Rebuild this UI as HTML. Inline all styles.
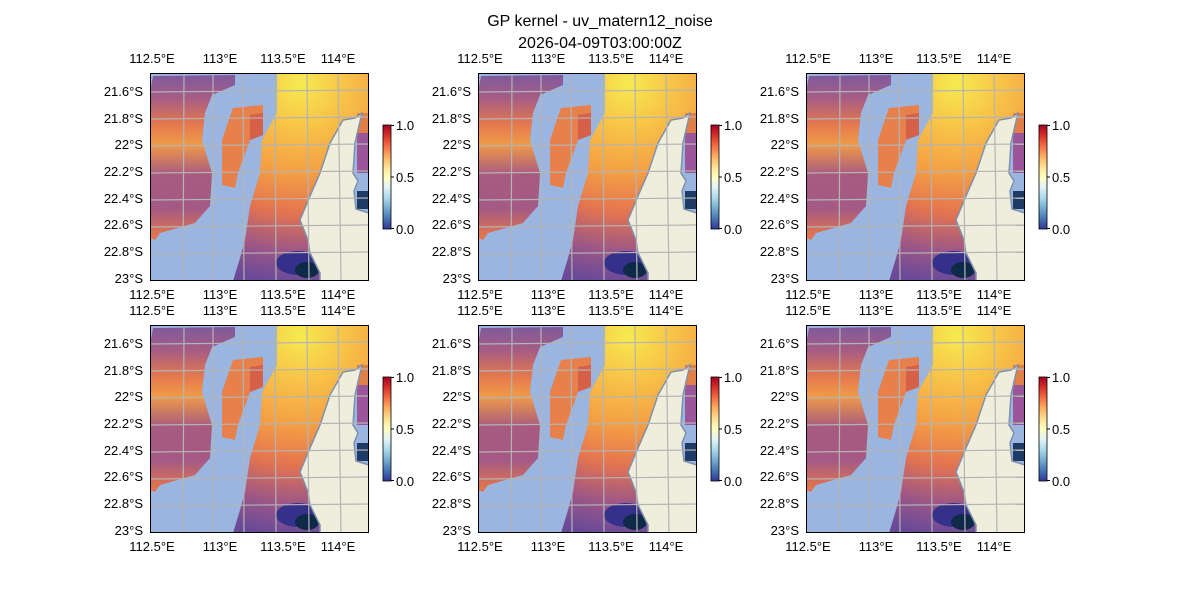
<!DOCTYPE html>
<html><head><meta charset="utf-8"><style>
body{margin:0;background:#fff}
svg text{font-family:"Liberation Sans","DejaVu Sans",sans-serif;font-size:13px;fill:#000}
</style></head><body>
<svg width="1200" height="600" viewBox="0 0 1200 600" xmlns="http://www.w3.org/2000/svg">
<defs>
<linearGradient id="cb" x1="0" y1="1" x2="0" y2="0">
<stop offset="0" stop-color="#313695"/><stop offset="0.1" stop-color="#4575b4"/><stop offset="0.2" stop-color="#74add1"/><stop offset="0.3" stop-color="#abd9e9"/><stop offset="0.4" stop-color="#e0f3f8"/><stop offset="0.5" stop-color="#ffffbf"/><stop offset="0.6" stop-color="#fee090"/><stop offset="0.7" stop-color="#fdae61"/><stop offset="0.8" stop-color="#f46d43"/><stop offset="0.9" stop-color="#d73027"/><stop offset="1" stop-color="#a50026"/>
</linearGradient>
<linearGradient id="ga" x1="0" y1="0" x2="0" y2="170" gradientUnits="userSpaceOnUse">
<stop offset="0" stop-color="#7c5aa0"/><stop offset="0.15" stop-color="#a65c84"/><stop offset="0.3" stop-color="#e4784e"/><stop offset="0.42" stop-color="#f09a48"/><stop offset="0.6" stop-color="#a85a80"/><stop offset="0.8" stop-color="#a45a84"/><stop offset="0.95" stop-color="#e0744e"/>
</linearGradient>
<radialGradient id="gr" cx="150" cy="10" r="200" gradientUnits="userSpaceOnUse">
<stop offset="0" stop-color="#f6ea50"/><stop offset="0.2" stop-color="#f8c848"/><stop offset="0.45" stop-color="#f4a044"/><stop offset="0.65" stop-color="#e47450"/><stop offset="0.85" stop-color="#9a5688"/><stop offset="1" stop-color="#6a4a98"/>
</radialGradient>
<clipPath id="pc"><rect x="0" y="0" width="219" height="208"/></clipPath>
<g id="panel">
<g clip-path="url(#pc)">
<rect x="0" y="0" width="219" height="208" fill="#9ab6e0"/>
<polygon fill="url(#ga)" points="3,3 85,2 85,12 62,22 55,40 52,67 62,100 60,133 45,150 10,160 5,167 0,165 0,20"/>
<polygon fill="#e8804c" points="83,35 113,32 113,55 100,67 88,100 85,115 72,112 72,67"/>
<polygon fill="#d6604a" points="100,42 113,40 113,62 100,67"/>
<polygon fill="url(#gr)" points="127,0 219,0 219,40 193,47 180,70 170,100 160,123 150,147 158,167 160,180 170,200 170,208 83,208 90,185 95,167 100,133 110,100 112,67 127,40"/>
<ellipse cx="148" cy="190" rx="22" ry="12" fill="#35308a"/>
<ellipse cx="157" cy="197" rx="12" ry="8" fill="#0e2a48"/>
<rect x="207" y="40" width="12" height="20" fill="#e08048"/>
<rect x="207" y="60" width="12" height="40" fill="#9a5698"/>
<rect x="207" y="118" width="12" height="18" fill="#1e3a66"/>
<polygon fill="#efeedd" stroke="#8090a8" stroke-width="1.5" points="212,40 205,45 193,47 180,70 170,100 160,123 150,147 158,167 160,180 170,200 170,208 219,208 219,140 206,136 204,118 208,108 203,100 205,70 212,40"/>
<g stroke="#b4b4b4" stroke-width="1.2" fill="none">
<line x1="34" y1="0" x2="33" y2="208"/><line x1="63" y1="0" x2="63" y2="208"/><line x1="93" y1="0" x2="94" y2="208"/><line x1="125" y1="0" x2="126" y2="208"/><line x1="157" y1="0" x2="159" y2="208"/><line x1="188" y1="0" x2="191" y2="208"/>
<line x1="0" y1="19" x2="219" y2="17"/><line x1="0" y1="46" x2="219" y2="44"/><line x1="0" y1="73" x2="219" y2="71"/><line x1="0" y1="100" x2="219" y2="98"/><line x1="0" y1="127" x2="219" y2="125"/><line x1="0" y1="154" x2="219" y2="152"/><line x1="0" y1="181" x2="219" y2="179"/>
</g>
</g>
<rect x="0.5" y="0.5" width="218" height="207" fill="none" stroke="#000" stroke-width="1"/>
</g>
<g id="cbar">
<rect x="0" y="0" width="8" height="104" fill="url(#cb)" stroke="#000" stroke-width="0.8"/>
<line x1="8" y1="0.5" x2="11" y2="0.5" stroke="#000"/><line x1="8" y1="52" x2="11" y2="52" stroke="#000"/><line x1="8" y1="103.5" x2="11" y2="103.5" stroke="#000"/>
</g>
</defs>
<text x="600" y="26" text-anchor="middle" style="font-size:16px">GP kernel - uv_matern12_noise</text>
<text x="600" y="48" text-anchor="middle" style="font-size:16px">2026-04-09T03:00:00Z</text>

<use href="#panel" x="150" y="73"/><use href="#panel" x="478" y="73"/><use href="#panel" x="806" y="73"/>
<use href="#panel" x="150" y="325"/><use href="#panel" x="478" y="325"/><use href="#panel" x="806" y="325"/>
<use href="#cbar" x="383" y="125"/><use href="#cbar" x="711" y="125"/><use href="#cbar" x="1039" y="125"/>
<use href="#cbar" x="383" y="377"/><use href="#cbar" x="711" y="377"/><use href="#cbar" x="1039" y="377"/>

<g text-anchor="middle">
<text x="152" y="63">112.5°E</text><text x="220" y="63">113°E</text><text x="283" y="63">113.5°E</text><text x="338" y="63">114°E</text>
<text x="152" y="299">112.5°E</text><text x="220" y="299">113°E</text><text x="283" y="299">113.5°E</text><text x="338" y="299">114°E</text>
<text x="152" y="315">112.5°E</text><text x="220" y="315">113°E</text><text x="283" y="315">113.5°E</text><text x="338" y="315">114°E</text>
<text x="152" y="551">112.5°E</text><text x="220" y="551">113°E</text><text x="283" y="551">113.5°E</text><text x="338" y="551">114°E</text>

<text x="480" y="63">112.5°E</text><text x="548" y="63">113°E</text><text x="611" y="63">113.5°E</text><text x="666" y="63">114°E</text>
<text x="480" y="299">112.5°E</text><text x="548" y="299">113°E</text><text x="611" y="299">113.5°E</text><text x="666" y="299">114°E</text>
<text x="480" y="315">112.5°E</text><text x="548" y="315">113°E</text><text x="611" y="315">113.5°E</text><text x="666" y="315">114°E</text>
<text x="480" y="551">112.5°E</text><text x="548" y="551">113°E</text><text x="611" y="551">113.5°E</text><text x="666" y="551">114°E</text>

<text x="808" y="63">112.5°E</text><text x="876" y="63">113°E</text><text x="939" y="63">113.5°E</text><text x="994" y="63">114°E</text>
<text x="808" y="299">112.5°E</text><text x="876" y="299">113°E</text><text x="939" y="299">113.5°E</text><text x="994" y="299">114°E</text>
<text x="808" y="315">112.5°E</text><text x="876" y="315">113°E</text><text x="939" y="315">113.5°E</text><text x="994" y="315">114°E</text>
<text x="808" y="551">112.5°E</text><text x="876" y="551">113°E</text><text x="939" y="551">113.5°E</text><text x="994" y="551">114°E</text>
</g>

<g text-anchor="end">
<text x="143" y="96">21.6°S</text><text x="143" y="123">21.8°S</text><text x="143" y="149">22°S</text><text x="143" y="176">22.2°S</text><text x="143" y="203">22.4°S</text><text x="143" y="229">22.6°S</text><text x="143" y="256">22.8°S</text><text x="143" y="283">23°S</text>
<text x="471" y="96">21.6°S</text><text x="471" y="123">21.8°S</text><text x="471" y="149">22°S</text><text x="471" y="176">22.2°S</text><text x="471" y="203">22.4°S</text><text x="471" y="229">22.6°S</text><text x="471" y="256">22.8°S</text><text x="471" y="283">23°S</text>
<text x="799" y="96">21.6°S</text><text x="799" y="123">21.8°S</text><text x="799" y="149">22°S</text><text x="799" y="176">22.2°S</text><text x="799" y="203">22.4°S</text><text x="799" y="229">22.6°S</text><text x="799" y="256">22.8°S</text><text x="799" y="283">23°S</text>
<text x="143" y="348">21.6°S</text><text x="143" y="375">21.8°S</text><text x="143" y="401">22°S</text><text x="143" y="428">22.2°S</text><text x="143" y="455">22.4°S</text><text x="143" y="481">22.6°S</text><text x="143" y="508">22.8°S</text><text x="143" y="535">23°S</text>
<text x="471" y="348">21.6°S</text><text x="471" y="375">21.8°S</text><text x="471" y="401">22°S</text><text x="471" y="428">22.2°S</text><text x="471" y="455">22.4°S</text><text x="471" y="481">22.6°S</text><text x="471" y="508">22.8°S</text><text x="471" y="535">23°S</text>
<text x="799" y="348">21.6°S</text><text x="799" y="375">21.8°S</text><text x="799" y="401">22°S</text><text x="799" y="428">22.2°S</text><text x="799" y="455">22.4°S</text><text x="799" y="481">22.6°S</text><text x="799" y="508">22.8°S</text><text x="799" y="535">23°S</text>
</g>

<g>
<text x="396" y="130">1.0</text><text x="396" y="182">0.5</text><text x="396" y="234">0.0</text>
<text x="724" y="130">1.0</text><text x="724" y="182">0.5</text><text x="724" y="234">0.0</text>
<text x="1052" y="130">1.0</text><text x="1052" y="182">0.5</text><text x="1052" y="234">0.0</text>
<text x="396" y="382">1.0</text><text x="396" y="434">0.5</text><text x="396" y="486">0.0</text>
<text x="724" y="382">1.0</text><text x="724" y="434">0.5</text><text x="724" y="486">0.0</text>
<text x="1052" y="382">1.0</text><text x="1052" y="434">0.5</text><text x="1052" y="486">0.0</text>
</g>
</svg>
</body></html>
